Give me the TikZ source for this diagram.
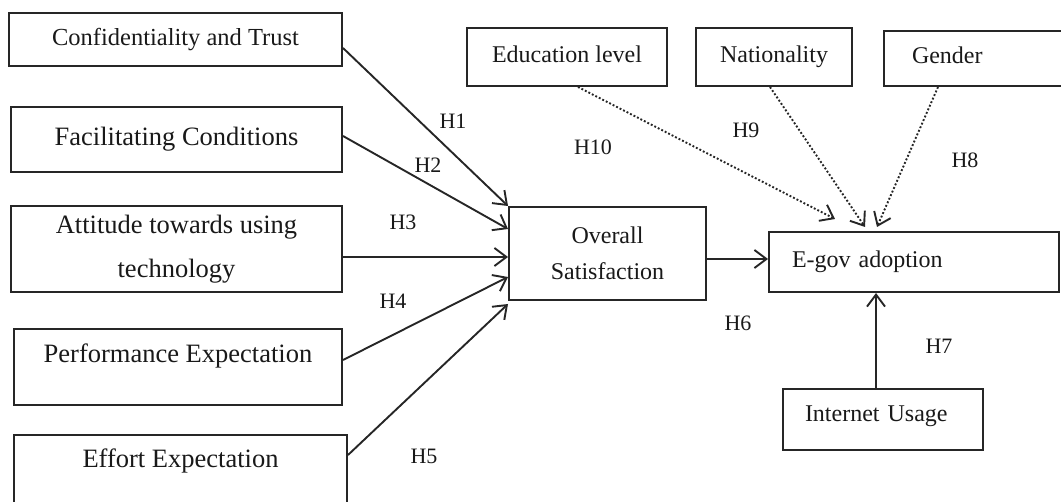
\documentclass[tikz,border=0pt]{standalone}
\usepackage{fontspec}
\setmainfont{Liberation Serif}
\usetikzlibrary{arrows.meta,positioning}
\tikzset{
  %% Predictor boxes (left column)
  predbox/.style={
    rectangle, draw=black!85, line width=2pt,
    align=center, inner sep=0pt, text=black!90,
    font=\fontsize{26.5}{44}\selectfont},
  %% Outcome and moderator boxes
  outbox/.style={
    rectangle, draw=black!85, line width=2pt,
    align=center, inner sep=0pt, text=black!90,
    font=\fontsize{24}{35.5}\selectfont},
  %% Moderator boxes (single line, common baseline)
  modbox/.style={outbox, text height=17pt, text depth=5pt},
  %% Hypothesis labels
  hyp/.style={inner sep=0pt, text=black!90, font=\fontsize{22}{22}\selectfont},
  %% Arrows
  arrow/.style={-{Straight Barb[length=12pt,width=18pt]}, line width=1.9pt, black!85},
  darrow/.style={-{Straight Barb[length=12pt,width=18pt]}, line width=1.9pt, dotted, black!85},
}
\begin{document}
\begin{tikzpicture}[x=1pt, y=-1pt]
  \useasboundingbox (0,0) rectangle (1061,502);
  \clip (0,0) rectangle (1061,502);

  %% Predictors
  \node[predbox, font=\fontsize{24.5}{30}\selectfont,
        minimum width=333pt, minimum height=53pt] (conf) at (175.5,39.5)
        {Confidentiality and Trust};
  \node[predbox, minimum width=331pt, minimum height=65pt] (fac) at (176.5,139.5)
        {Facilitating Conditions};
  \node[predbox, minimum width=331pt, minimum height=86pt] (att) at (176.5,249)
        {Attitude towards using\\ technology};
  \node[predbox, minimum width=328pt, minimum height=76pt,
        text height=18pt, text depth=27pt] (perf) at (178,367)
        {Performance Expectation};
  \node[predbox, minimum width=333pt, minimum height=70pt,
        text height=18pt, text depth=22pt] (eff) at (180.5,470)
        {Effort Expectation};

  %% Mediator and outcome
  \node[outbox, minimum width=197pt, minimum height=93pt] (ovs) at (607.5,253.5)
        {Overall\\ Satisfaction};
  \node[outbox, text width=244pt, inner xsep=23pt, align=left,
        minimum height=60pt] (egov) at (914,262) {E-gov adoption};
  \node[outbox, text width=156pt, inner xsep=22pt, align=left,
        minimum height=61pt, text height=18pt, text depth=13pt] (inet) at (883,419.5)
        {Internet Usage};

  %% Moderators
  \node[modbox, minimum width=200pt, minimum height=58pt] (edu) at (567,57) {Education level};
  \node[modbox, minimum width=156pt, minimum height=58pt] (nat) at (774,57) {Nationality};
  \node[modbox, text width=135pt, inner xsep=28pt, align=left,
        minimum height=55pt, text depth=7pt] (gen) at (979.5,58.5) {Gender};

  \draw[arrow] ([yshift=-8.5pt]conf.east) -- (ovs.north west);
  \draw[arrow] ([yshift=3.5pt]fac.east) -- ([yshift=24.5pt]ovs.west);
  \draw[arrow] ([yshift=-8pt]att.east) -- ([yshift=-3.5pt]ovs.west);
  \draw[arrow] ([yshift=7pt]perf.east) -- ([yshift=-23.5pt]ovs.west);
  \draw[arrow] ([yshift=15pt]eff.east) -- ([yshift=-3pt]ovs.south west);
  \draw[arrow] ([yshift=-5.5pt]ovs.east) -- ([yshift=3pt]egov.west);
  \draw[arrow] ([xshift=-7pt]inet.north) -- ([xshift=-38pt]egov.south);

  \draw[darrow] ([xshift=11pt]edu.south) -- ([xshift=-79pt,yshift=12pt]egov.north);
  \draw[darrow] ([xshift=-4pt]nat.south) -- ([xshift=-49pt,yshift=4pt]egov.north);
  \draw[darrow] ([xshift=-41.5pt]gen.south) -- ([xshift=-37pt,yshift=4pt]egov.north);

  %% Hypothesis labels
  \node[hyp] (h1) at (453,121) {H1};
  \node[hyp] (h2) at (428,165) {H2};
  \node[hyp] (h3) at (403,222) {H3};
  \node[hyp] (h4) at (393,301) {H4};
  \node[hyp] (h5) at (424,456) {H5};
  \node[hyp] (h6) at (738,323) {H6};
  \node[hyp] (h7) at (939,346) {H7};
  \node[hyp] (h8) at (965,160) {H8};
  \node[hyp] (h9) at (746,130) {H9};
  \node[hyp] (h10) at (593,147) {H10};
\end{tikzpicture}
\end{document}
